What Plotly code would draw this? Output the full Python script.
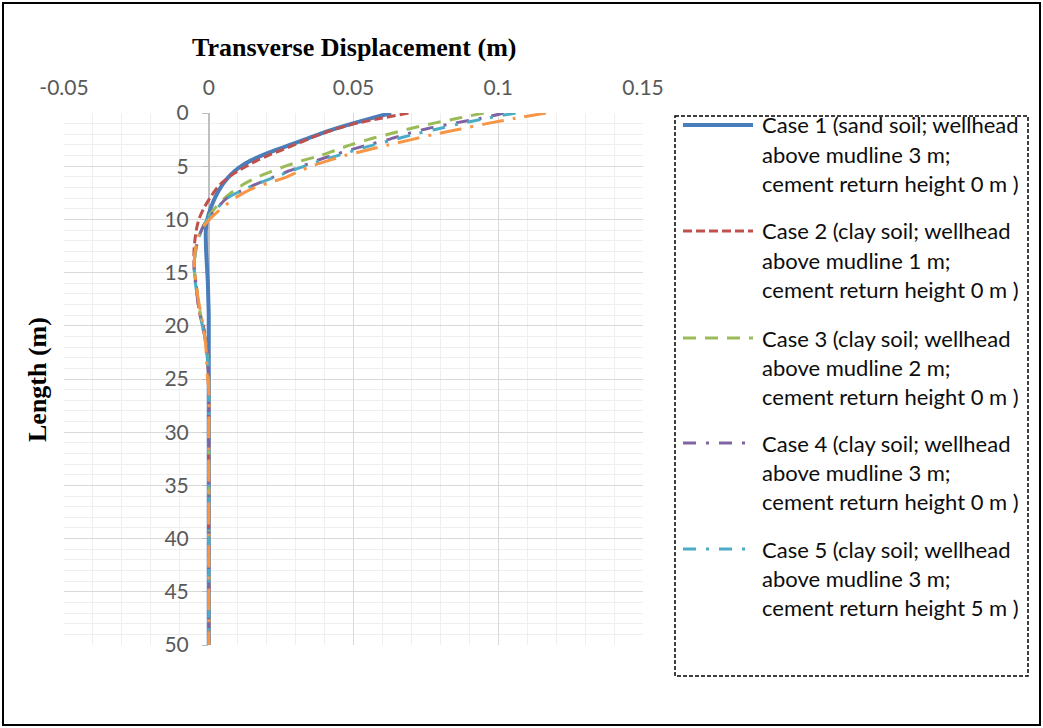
import plotly.graph_objects as go

# Depth below wellhead (m) shared by all cases
depth = [0, 0.5, 1, 1.5, 2, 2.5, 3, 3.5, 4, 4.5, 5, 5.5, 6, 6.5, 7, 8, 9, 10,
         11, 12, 13, 14, 15, 16, 17, 18, 19, 20, 21, 22, 23, 24, 25, 26,
         30, 35, 40, 45, 50]

# Transverse displacement (m) for each case
case1 = [0.063, 0.056, 0.0495, 0.0435, 0.038, 0.033, 0.028, 0.023, 0.0182, 0.0143,
         0.0112, 0.0088, 0.0069, 0.0054, 0.0041, 0.0021, 0.0006, -0.0005,
         -0.001, -0.001, -0.0009, -0.0007, -0.0005, -0.0003, -0.0002, -0.0001,
         0, 0, 0, 0, 0, 0, 0, 0,
         0, 0, 0, 0, 0]
case2 = [0.069, 0.0595, 0.0505, 0.044, 0.0385, 0.034, 0.0295, 0.025, 0.0205, 0.0165,
         0.013, 0.0098, 0.007, 0.0048, 0.003, 0.0004, -0.0018, -0.0034,
         -0.0043, -0.0048, -0.0051, -0.0051, -0.0049, -0.0044, -0.004, -0.0036,
         -0.003, -0.0019, -0.0011, -0.0007, -0.0004, -0.0002, 0, 0,
         0, 0, 0, 0, 0]
case3 = [0.095, 0.086, 0.077, 0.069, 0.062, 0.055, 0.049, 0.0437, 0.0385, 0.032,
         0.0265, 0.0216, 0.017, 0.0133, 0.0103, 0.0055, 0.002, -0.0007,
         -0.0025, -0.0037, -0.0045, -0.0049, -0.0049, -0.0045, -0.004, -0.0035,
         -0.0028, -0.002, -0.0013, -0.0008, -0.0004, -0.0002, 0, 0,
         0, 0, 0, 0, 0]
case4 = [0.102, 0.094, 0.084, 0.075, 0.068, 0.062, 0.055, 0.0485, 0.0425, 0.037,
         0.0322, 0.0272, 0.0225, 0.018, 0.0138, 0.0063, 0.0027, -0.0005,
         -0.0025, -0.0038, -0.0046, -0.005, -0.005, -0.0046, -0.0041, -0.0036,
         -0.003, -0.0022, -0.0014, -0.0009, -0.0005, -0.0002, 0, 0,
         0, 0, 0, 0, 0]
case5 = [0.106, 0.096, 0.087, 0.079, 0.071, 0.064, 0.057, 0.0505, 0.0445, 0.0385,
         0.033, 0.028, 0.023, 0.0183, 0.0138, 0.0065, 0.0027, -0.0005,
         -0.0025, -0.0038, -0.0046, -0.005, -0.005, -0.0046, -0.0041, -0.0036,
         -0.003, -0.0022, -0.0014, -0.0009, -0.0005, -0.0002, 0, 0,
         0, 0, 0, 0, 0]
case6 = [0.1165, 0.106, 0.096, 0.087, 0.078, 0.070, 0.062, 0.0545, 0.047, 0.041,
         0.0355, 0.031, 0.027, 0.0215, 0.016, 0.009, 0.0043, 0.0003,
         -0.0027, -0.004, -0.0047, -0.005, -0.0048, -0.0043, -0.0039, -0.0033,
         -0.0026, -0.002, -0.0014, -0.001, -0.0008, -0.0006, -0.0004, 0,
         0, 0, 0, 0, 0]

legend_lines = [
    ["Case 1 (sand soil; wellhead", "above mudline 3 m;", "cement return height 0 m )"],
    ["Case 2 (clay soil; wellhead", "above mudline 1 m;", "cement return height 0 m )"],
    ["Case 3 (clay soil; wellhead", "above mudline 2 m;", "cement return height 0 m )"],
    ["Case 4 (clay soil; wellhead", "above mudline 3 m;", "cement return height 0 m )"],
    ["Case 5 (clay soil; wellhead", "above mudline 3 m;", "cement return height 5 m )"],
]

series = [
    ("Case 1", case1, "#4A7EBB", "solid", 4),
    ("Case 2", case2, "#C0504D", "9px,4px", 3),
    ("Case 3", case3, "#9BBB59", "13px,9px", 3),
    ("Case 4", case4, "#8064A2", "13px,10px,3px,10px", 3),
    ("Case 5", case5, "#4BACC6", "13px,10px,3px,10px", 3),
    ("Case 6", case6, "#F79646", "22px,9px,3px,9px", 3),
]
for _, vals, *_rest in series:
    assert len(vals) == len(depth)

W, H = 1043, 728
L_PX, R_PX, T_PX, B_PX = 64, 643, 113, 645

def px_x(px):
    return (px - L_PX) / (R_PX - L_PX)

def px_y(py):
    return 1 - (py - T_PX) / (B_PX - T_PX)

fig = go.Figure()
for name, vals, color, dash, width in series:
    fig.add_trace(go.Scatter(
        x=vals, y=depth, mode="lines", name=name, showlegend=False,
        line=dict(color=color, dash=dash, width=width, shape="spline", smoothing=0.9),
    ))

tick_font = dict(family="Lato, Open Sans, sans-serif", size=21, color="#595959")

fig.update_layout(
    width=W, height=H,
    margin=dict(l=L_PX, r=W - R_PX, t=T_PX, b=H - B_PX),
    paper_bgcolor="white", plot_bgcolor="white",
    showlegend=False,
    xaxis=dict(
        range=[-0.05, 0.15], side="top",
        tickvals=[-0.05, 0, 0.05, 0.1, 0.15],
        ticktext=["-0.05", "0", "0.05", "0.1", "0.15"],
        showgrid=True, gridcolor="#d9d9d9", gridwidth=1.3,
        minor=dict(dtick=0.01, tick0=0, showgrid=True, gridcolor="#efefef", gridwidth=1.3),
        zeroline=True, zerolinecolor="#bfbfbf", zerolinewidth=1.5,
        showline=False, ticks="", tickfont=tick_font, ticklabelstandoff=13,
        layer="below traces", fixedrange=True,
    ),
    yaxis=dict(
        range=[50, 0], dtick=5, tick0=0,
        anchor="free", position=0.25, side="left",
        showgrid=True, gridcolor="#d9d9d9", gridwidth=1.3,
        minor=dict(dtick=1, showgrid=True, gridcolor="#efefef", gridwidth=1.3),
        zeroline=False, showline=True, linecolor="#bfbfbf", linewidth=1.5,
        ticks="outside", ticklen=6, tickcolor="#bfbfbf", tickwidth=1.3,
        tickfont=tick_font, ticklabelstandoff=9,
        layer="below traces", fixedrange=True,
    ),
)

title_font = dict(family="Liberation Serif, Times New Roman, serif", size=26, color="black")
annotations = [
    dict(text="<b>Transverse Displacement (m)</b>", x=px_x(354), y=px_y(47),
         xref="paper", yref="paper", showarrow=False, xanchor="center", yanchor="middle",
         font=title_font),
    dict(text="<b>Length (m)</b>", x=px_x(37), y=px_y(380), textangle=-90,
         xref="paper", yref="paper", showarrow=False, xanchor="center", yanchor="middle",
         font=title_font),
]

shapes = [
    # outer frame of the chart
    dict(type="rect", xref="paper", yref="paper",
         x0=px_x(3), x1=px_x(1040), y0=px_y(3), y1=px_y(725),
         line=dict(color="black", width=2), fillcolor="rgba(0,0,0,0)", layer="above"),
    # dashed legend box
    dict(type="rect", xref="paper", yref="paper",
         x0=px_x(675), x1=px_x(1028), y0=px_y(116), y1=px_y(676),
         line=dict(color="black", width=1.5, dash="4px,2px"), fillcolor="rgba(0,0,0,0)"),
]

entry_top = [125, 231, 338, 443, 549]
for i, lines in enumerate(legend_lines):
    _, _, color, dash, width = series[i]
    y0 = entry_top[i]
    shapes.append(dict(type="line", xref="paper", yref="paper",
                       x0=px_x(683), x1=px_x(753), y0=px_y(y0), y1=px_y(y0),
                       line=dict(color=color, dash=dash, width=width)))
    for j, t in enumerate(lines):
        annotations.append(dict(
            text=t, x=px_x(760), y=px_y(y0 + 29.3 * j), xref="paper", yref="paper",
            showarrow=False, xanchor="left", yanchor="middle",
            font=dict(family="Lato, Open Sans, sans-serif", size=22, color="#0d0d0d")))

fig.update_layout(annotations=annotations, shapes=shapes)

fig.write_html("out.html")
